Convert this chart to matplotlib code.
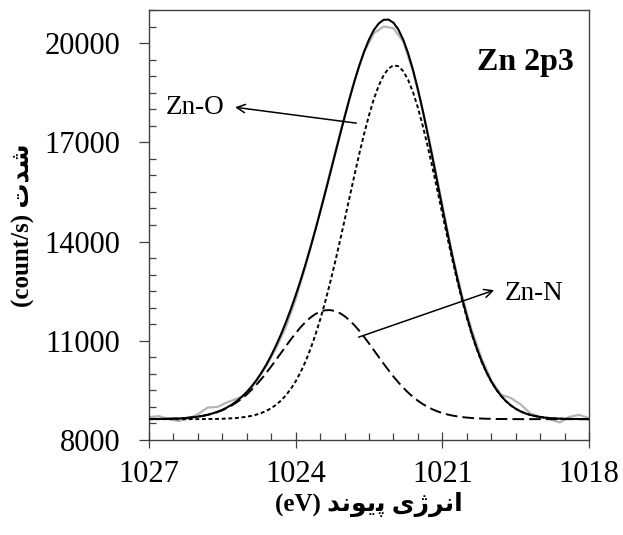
import numpy as np
import matplotlib
matplotlib.use("Agg")
import matplotlib.pyplot as plt
from matplotlib.ticker import MultipleLocator

plt.rcParams['font.family'] = ['Liberation Serif', 'DejaVu Sans']

# binding energy (eV): measured points every 0.2 eV, fit curves every 0.1 eV
raw_energy = np.linspace(1027, 1018, 46)
fit_energy = np.linspace(1027, 1018, 91)

# measured spectrum (gray), counts/s
raw = [8690, 8720, 8640, 8570, 8650, 8780, 8980, 9000, 9140, 9250,
       9380, 9790, 10230, 10780, 11420, 12250, 13250, 14350, 15500, 16650,
       17780, 18850, 19730, 20300, 20500, 20450, 20050, 19150, 17980, 16600,
       15100, 13650, 12380, 11330, 10480, 9800, 9370, 9270, 9080, 8800,
       8700, 8630, 8530, 8700, 8760, 8660]

# fitted envelope (solid)
envelope = [8633, 8634, 8635, 8638, 8641, 8646, 8652, 8660, 8671, 8687,
            8706, 8731, 8763, 8803, 8852, 8912, 8987, 9076, 9182, 9307,
            9454, 9622, 9815, 10035, 10281, 10557, 10862, 11194, 11558, 11951,
            12374, 12825, 13303, 13807, 14335, 14885, 15448, 16026, 16608, 17189,
            17757, 18314, 18834, 19317, 19740, 20107, 20398, 20594, 20704, 20710,
            20614, 20413, 20104, 19693, 19188, 18604, 17953, 17253, 16522, 15774,
            15023, 14294, 13590, 12926, 12308, 11746, 11239, 10789, 10397, 10061,
            9775, 9535, 9337, 9177, 9048, 8946, 8865, 8804, 8757, 8722,
            8695, 8676, 8662, 8652, 8645, 8640, 8637, 8635, 8633, 8632,
            8631]

# Zn-O component (dotted)
zn_o = [8630, 8630, 8630, 8630, 8630, 8630, 8630, 8630, 8630, 8631,
        8631, 8632, 8634, 8636, 8638, 8642, 8648, 8656, 8667, 8683,
        8704, 8731, 8768, 8818, 8880, 8962, 9066, 9193, 9351, 9543,
        9774, 10048, 10369, 10739, 11160, 11635, 12157, 12728, 13338, 13980,
        14643, 15323, 15992, 16644, 17254, 17818, 18314, 18716, 19030, 19233,
        19325, 19300, 19153, 18889, 18516, 18047, 17497, 16884, 16226, 15539,
        14839, 14151, 13480, 12842, 12245, 11699, 11204, 10764, 10379, 10048,
        9766, 9529, 9333, 9174, 9046, 8945, 8865, 8804, 8757, 8722,
        8695, 8676, 8662, 8652, 8645, 8640, 8637, 8635, 8633, 8632,
        8631]

# Zn-N component (dashed)
zn_n = [8633, 8634, 8635, 8638, 8641, 8646, 8652, 8660, 8671, 8686,
        8705, 8729, 8759, 8797, 8844, 8900, 8969, 9050, 9145, 9254,
        9380, 9521, 9677, 9847, 10031, 10225, 10426, 10631, 10837, 11038,
        11230, 11407, 11564, 11698, 11805, 11880, 11921, 11928, 11900, 11839,
        11744, 11621, 11472, 11303, 11116, 10919, 10714, 10508, 10304, 10107,
        9919, 9743, 9581, 9434, 9302, 9187, 9086, 8999, 8926, 8865,
        8814, 8773, 8740, 8714, 8693, 8677, 8665, 8655, 8648, 8643,
        8639, 8636, 8634, 8633, 8632, 8631, 8630, 8630, 8630, 8630,
        8630, 8630, 8630, 8630, 8630, 8630, 8630, 8630, 8630, 8630,
        8630]

x_ticks = [1027, 1024, 1021, 1018]
y_ticks = [8000, 11000, 14000, 17000, 20000]

# Persian labels written in visual order with presentation forms
xlabel = "(eV) \uFEAA\uFEE7\uFEEE\uFBFE\uFB58 \uFBFC\uFB8A\uFEAE\uFEE7\uFE8D"
ylabel = "(count/s) \uFE95\uFEAA\uFEB7"

fig = plt.figure(figsize=(6.23, 5.35), dpi=100)
ax = fig.add_axes([0.2392, 0.1776, 0.7062, 0.8037])

ax.plot(raw_energy, raw, color='#b4b4b4', lw=1.6, zorder=1)
ax.plot(fit_energy, zn_o, color='black', lw=1.4, ls=(0, (2.0, 1.4)), zorder=2)
ax.plot(fit_energy, zn_n, color='black', lw=1.4, ls=(0, (6.0, 2.6)), zorder=2)
ax.plot(fit_energy, envelope, color='black', lw=1.5, zorder=3)

ax.set_xlim(1027, 1018)
ax.set_ylim(8000, 21000)
ax.set_xticks(x_ticks)
ax.set_yticks(y_ticks)
ax.xaxis.set_minor_locator(MultipleLocator(0.5))
ax.yaxis.set_minor_locator(MultipleLocator(500))

ax.tick_params(axis='x', which='major', direction='inout', length=11, width=0.9,
               labelsize=22, pad=9, color='#404040')
ax.tick_params(axis='y', which='major', direction='out', length=7.5, width=0.9,
               labelsize=22, pad=13, color='#404040')
ax.tick_params(which='minor', direction='in', length=5, width=0.9, color='#404040')

for sp in ax.spines.values():
    sp.set_color('#404040')
    sp.set_linewidth(1.0)

ax.set_xlabel(xlabel, fontsize=18, fontweight='bold', labelpad=2)
ax.set_ylabel(ylabel, fontsize=18, fontweight='bold', labelpad=7)

ax.text(1018.3, 19420, 'Zn 2p3', fontsize=23, fontweight='bold',
        ha='right', va='center')
ax.text(1026.65, 18060, 'Zn-O', fontsize=19.5, ha='left', va='center')
ax.text(1019.73, 12440, 'Zn-N', fontsize=19.5, ha='left', va='center')

arrow = dict(arrowstyle='->,head_length=0.6,head_width=0.3', color='black',
             lw=1.1, shrinkA=0, shrinkB=0)
ax.annotate('', xy=(1025.24, 18060), xytext=(1022.76, 17580), arrowprops=arrow)
ax.annotate('', xy=(1019.94, 12530), xytext=(1022.71, 11110), arrowprops=arrow)

fig.savefig('out.png', dpi=100)
